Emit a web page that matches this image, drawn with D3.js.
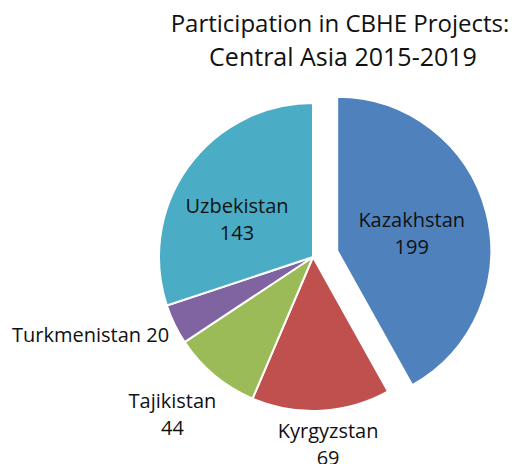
<!DOCTYPE html>
<html lang="en">
<head>
<meta charset="UTF-8">
<title>CBHE Central Asia</title>
<script src="https://d3js.org/d3.v7.min.js"></script>
<style>
  body { margin: 0; background: #fff; }
  text { font-family: "Open Sans", sans-serif; fill: #111; }
</style>
</head>
<body>
<div id="chart"></div>
<script>
// data
var countries = ["Kazakhstan", "Kyrgyzstan", "Tajikistan", "Turkmenistan", "Uzbekistan"];
var projects = [199, 69, 44, 20, 143];
var colors = ["#4F81BD", "#C0504D", "#9BBB59", "#8064A2", "#4BACC6"];
var titleLines = ["Participation in CBHE Projects:", "Central Asia 2015-2019"];

var width = 512, height = 464;
var cx = 313, cy = 257, r = 154, explode = 25;

var svg = d3.select("#chart").append("svg")
    .attr("width", width)
    .attr("height", height);

// title
svg.append("text")
    .attr("x", 340).attr("y", 32)
    .attr("text-anchor", "middle")
    .style("font-size", "24px")
    .text(titleLines[0]);
svg.append("text")
    .attr("x", 343).attr("y", 66)
    .attr("text-anchor", "middle")
    .style("font-size", "25px")
    .text(titleLines[1]);

var data = countries.map(function(c, i) { return {name: c, value: projects[i], color: colors[i]}; });

var pie = d3.pie().sort(null).value(function(d) { return d.value; });
var arcs = pie(data);
var arc = d3.arc().innerRadius(0).outerRadius(r);

var g = svg.append("g").attr("transform", "translate(" + cx + "," + cy + ")");

function offset(d) {
  if (d.index !== 0) return [0, 0];
  var a = (d.startAngle + d.endAngle) / 2;
  return [Math.sin(a) * explode, -Math.cos(a) * explode];
}

g.selectAll("path.slice")
  .data(arcs)
  .enter().append("path")
    .attr("class", "slice")
    .attr("d", arc)
    .attr("transform", function(d) { var o = offset(d); return "translate(" + o[0] + "," + o[1] + ")"; })
    .attr("fill", function(d) { return d.data.color; })
    .attr("stroke", "#fff")
    .attr("stroke-width", 2);

// label placement: radius from centre, anchor and small nudges
var labelSpec = {
  "Kazakhstan":   {rad: 77,  anchor: "middle", dx: 0,   dy: 0,  lines: 2},
  "Kyrgyzstan":   {rad: 172, anchor: "middle", dx: 6,   dy: 13, lines: 2},
  "Tajikistan":   {rad: 215, anchor: "middle", dx: -3,  dy: -10, lines: 2},
  "Turkmenistan": {rad: 170, anchor: "end",    dx: 9,   dy: 11, lines: 1},
  "Uzbekistan":   {rad: 90,  anchor: "middle", dx: -3,  dy: 13, lines: 2}
};

arcs.forEach(function(d) {
  var s = labelSpec[d.data.name];
  var a = (d.startAngle + d.endAngle) / 2;
  var o = offset(d);
  var x = Math.sin(a) * s.rad + o[0] + s.dx;
  var y = -Math.cos(a) * s.rad + o[1] + s.dy;
  var t = g.append("text")
      .attr("x", x).attr("y", y)
      .attr("text-anchor", s.anchor)
      .style("font-size", "20px");
  if (s.lines === 1) {
    t.text(d.data.name + " " + d.data.value);
  } else {
    t.append("tspan").attr("x", x).attr("dy", "-0.2em").text(d.data.name);
    t.append("tspan").attr("x", x).attr("dy", "1.35em").text(d.data.value);
  }
});
</script>
</body>
</html>
